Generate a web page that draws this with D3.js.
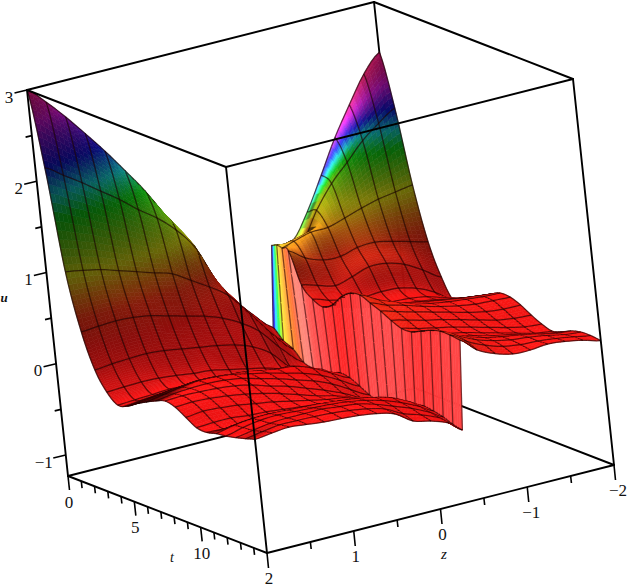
<!DOCTYPE html>
<html>
<head>
<meta charset="utf-8">
<title>u(z, t)</title>
<script src="https://cdn.jsdelivr.net/npm/d3@7/dist/d3.min.js"></script>
<style>
html,body{margin:0;padding:0;background:#fff;overflow:hidden}
svg{display:block}
text{font-family:"Liberation Serif",serif;fill:#111}
</style>
</head>
<body>
<script>
// Axis ranges and ticks
const zDomain = [2, -2];
const tDomain = [0, 15];
const uDomain = [-1.23, 3];
const zTicks = [2, 1.5, 1, 0.5, 0, -0.5, -1, -1.5, -2];
const tTicks = [0,1,2,3,4,5,6,7,8,9,10,11,12,13,14,15];
const uTicks = [-1, -0.5, 0, 0.5, 1, 1.5, 2, 2.5, 3];

// Sample positions
const tRows = [0,0.75,1.5,2.25,3,3.75,4.5,5.25,6,6.75,7.5,8.25,9,9.75,10.5,11.25,12,12.75,13.5,14.25,15];
const zLeft = [2,1.8,1.6,1.4,1.2,1,0.8,0.6,0.4,0.2,0,-0.2];
const zRight = [-0.6,-0.8,-1,-1.2,-1.4,-1.6,-1.8,-2];
// The jump between the two sheets drifts slightly with t
const zJumpFoot = [-0.48,-0.473,-0.466,-0.459,-0.452,-0.445,-0.438,-0.431,-0.424,-0.417,-0.41,-0.403,-0.396,-0.389,-0.382,-0.375,-0.368,-0.361,-0.354,-0.347,-0.34];
const zJumpHead = [-0.56,-0.512,-0.46,-0.42,-0.42,-0.42,-0.42,-0.42,-0.42,-0.42,-0.42,-0.42,-0.42,-0.42,-0.42,-0.42,-0.42,-0.42,-0.42,-0.42,-0.42];

// u on the sheet with z above the jump (rows: t, columns: zLeft then the jump foot)
const uLeft = [
[3.00,2.82,2.61,2.38,2.14,1.88,1.61,1.29,0.96,0.57,0.29,0.06,-0.20],
[2.19,2.06,1.93,1.79,1.65,1.49,1.35,1.17,0.92,0.50,0.22,-0.03,-0.30],
[1.09,1.06,1.02,0.96,0.90,0.84,0.78,0.66,0.54,0.40,0.17,-0.08,-0.35],
[0.475,0.49,0.50,0.49,0.46,0.41,0.36,0.31,0.24,0.14,0.00,-0.22,-0.45],
[0.10,0.12,0.13,0.135,0.12,0.09,0.06,0.03,-0.01,-0.08,-0.20,-0.40,-0.47],
[-0.10,-0.09,-0.085,-0.09,-0.11,-0.135,-0.15,-0.19,-0.23,-0.27,-0.33,-0.42,-0.44],
[-0.20,-0.19,-0.18,-0.17,-0.18,-0.20,-0.23,-0.27,-0.30,-0.33,-0.36,-0.41,-0.43],
[-0.17,-0.15,-0.13,-0.11,-0.11,-0.13,-0.16,-0.18,-0.20,-0.20,-0.24,-0.31,-0.39],
[-0.10,-0.08,-0.05,-0.03,-0.03,-0.04,-0.05,-0.08,-0.11,-0.125,-0.19,-0.29,-0.40],
[-0.04,-0.01,0.02,0.045,0.04,0.02,-0.02,-0.06,-0.11,-0.16,-0.23,-0.33,-0.447],
[0.014,0.04,0.055,0.06,0.05,0.02,-0.03,-0.08,-0.14,-0.20,-0.28,-0.39,-0.50],
[0.056,0.065,0.06,0.05,0.03,-0.01,-0.07,-0.12,-0.19,-0.26,-0.34,-0.44,-0.524],
[0.03,0.04,0.03,0.01,-0.02,-0.06,-0.11,-0.17,-0.23,-0.28,-0.35,-0.44,-0.497],
[-0.04,-0.02,-0.03,-0.05,-0.08,-0.11,-0.15,-0.19,-0.23,-0.26,-0.31,-0.39,-0.453],
[-0.11,-0.10,-0.10,-0.12,-0.13,-0.15,-0.17,-0.19,-0.21,-0.23,-0.27,-0.34,-0.42],
[-0.12,-0.13,-0.14,-0.15,-0.16,-0.16,-0.17,-0.18,-0.19,-0.20,-0.24,-0.31,-0.38],
[-0.09,-0.05,-0.03,-0.025,-0.035,-0.045,-0.055,-0.075,-0.10,-0.13,-0.18,-0.27,-0.36],
[-0.075,-0.03,0.00,0.01,0.00,-0.01,-0.02,-0.04,-0.07,-0.12,-0.19,-0.28,-0.37],
[-0.05,-0.02,0.01,0.02,0.02,0.02,0.00,-0.02,-0.07,-0.14,-0.21,-0.30,-0.39],
[-0.02,0.01,0.035,0.035,0.03,0.02,0.00,-0.03,-0.08,-0.18,-0.24,-0.32,-0.426],
[0.014,0.037,0.054,0.034,0.013,0.003,-0.012,-0.04,-0.092,-0.218,-0.266,-0.336,-0.447]
];

// u on the sheet with z below the jump (rows: t, columns: the jump head then zRight)
const uRight = [
[0.68,0.67,0.67,0.94,1.295,1.66,1.97,2.26,2.45],
[0.74,0.72,0.70,1.00,1.245,1.43,1.62,1.76,1.88],
[0.76,0.80,0.85,0.856,0.91,0.97,1.02,1.05,1.08],
[0.78,0.66,0.59,0.58,0.63,0.64,0.60,0.55,0.50],
[0.45,0.40,0.35,0.40,0.46,0.45,0.39,0.28,0.155],
[0.336,0.28,0.24,0.22,0.23,0.22,0.17,0.08,-0.054],
[0.293,0.25,0.20,0.17,0.16,0.15,0.12,0.06,0.01],
[0.356,0.30,0.24,0.20,0.18,0.16,0.13,0.09,0.063],
[0.486,0.40,0.31,0.26,0.23,0.20,0.17,0.14,0.12],
[0.57,0.47,0.38,0.32,0.28,0.25,0.22,0.20,0.18],
[0.593,0.50,0.42,0.35,0.31,0.28,0.26,0.24,0.233],
[0.547,0.48,0.43,0.37,0.32,0.28,0.25,0.24,0.23],
[0.50,0.45,0.40,0.35,0.30,0.25,0.21,0.19,0.186],
[0.44,0.40,0.35,0.31,0.26,0.21,0.16,0.13,0.118],
[0.394,0.35,0.31,0.27,0.22,0.17,0.12,0.08,0.062],
[0.40,0.34,0.29,0.25,0.20,0.15,0.10,0.05,0.027],
[0.45,0.38,0.31,0.26,0.21,0.17,0.12,0.08,0.06],
[0.50,0.42,0.34,0.28,0.24,0.21,0.17,0.13,0.112],
[0.534,0.44,0.35,0.29,0.25,0.23,0.20,0.16,0.143],
[0.534,0.42,0.33,0.27,0.24,0.23,0.21,0.18,0.147],
[0.52,0.368,0.28,0.228,0.223,0.24,0.22,0.185,0.134]
];

// Colour ramp: height to hue in degrees
const hueLevels = [-1.23,0,0.3,0.6,0.8,1,1.4,1.66,1.9,2.2,2.5,2.75,3];
const hueDegrees = [0,0,1,8,28,55,95,125,180,240,275,310,335];
// Hue and brightness along the t = 0 rim of the right sheet, and hue along the wall's first rows
const rimHue = [55,55,60,150,250,300,330,340,330];
const rimGlow = [1,1,1,1,1,0.9,0.55,0.15,0];
const wallHue = [265,58,30,10,3,0];

// Oblique parallel projection of the unit box onto the page
const origin = [68, 476];
const axisZ = [347, -88];
const axisT = [199, 77];
const axisU = [-41, -386];

const toA = d3.scaleLinear().domain(zDomain).range([0,1]);
const toB = d3.scaleLinear().domain(tDomain).range([0,1]);
const toC = d3.scaleLinear().domain(uDomain).range([0,1]);
const hueOf = d3.scaleLinear().domain(hueLevels).range(hueDegrees).clamp(true);
// The far sheet runs through the ramp faster above u = 1.1
const rightLevel = d3.scaleLinear().domain([-2,1.1,2.45]).range([-2,1.1,3]);

const project = (a,b,c) => [
  origin[0]+a*axisZ[0]+b*axisT[0]+c*axisU[0],
  origin[1]+a*axisZ[1]+b*axisT[1]+c*axisU[1]
];
// View direction, from the cross product of the screen rows of the projection
const vx=[axisZ[0],axisT[0],axisU[0]], vy=[axisZ[1],axisT[1],axisU[1]];
const viewRaw=[vx[1]*vy[2]-vx[2]*vy[1],vx[2]*vy[0]-vx[0]*vy[2],vx[0]*vy[1]-vx[1]*vy[0]];
const viewLen=Math.hypot(...viewRaw);
const view=viewRaw.map(d=>d/viewLen);
const depthOf=(a,b,c)=>view[0]*a+view[1]*b+view[2]*c;

function hsv(h,s,v){
  h=((h%360)+360)%360;
  const f=n=>{const k=(n+h/60)%6;return v-v*s*Math.max(0,Math.min(k,4-k,1));};
  return d3.rgb(f(5)*255,f(3)*255,f(1)*255);
}
const catmull=(p0,p1,p2,p3,s)=>0.5*((2*p1)+(-p0+p2)*s+(2*p0-5*p1+4*p2-p3)*s*s+(-p0+3*p1-3*p2+p3)*s*s*s);
const clampI=(i,n)=>Math.max(0,Math.min(n-1,i));
const along=(arr,k)=>{const i=Math.min(arr.length-2,Math.floor(k));return arr[i]+(arr[i+1]-arr[i])*(k-i);};

function makeSheet(values, zAt){
  const nr=values.length, nc=values[0].length;
  return {
    nr,nc,
    u(r,k){
      const i=Math.min(nr-2,Math.floor(r)), j=Math.min(nc-2,Math.floor(k));
      const sr=r-i, sk=k-j, col=[];
      for(let m=-1;m<=2;m++){
        const row=values[clampI(i+m,nr)];
        col.push(catmull(row[clampI(j-1,nc)],row[j],row[j+1],row[clampI(j+2,nc)],sk));
      }
      return catmull(col[0],col[1],col[2],col[3],sr);
    },
    a(r,k){
      const i=Math.min(nr-2,Math.floor(r)), j=Math.min(nc-2,Math.floor(k));
      const sr=r-i, sk=k-j;
      const at=(ri)=>toA(zAt(ri,j))*(1-sk)+toA(zAt(ri,j+1))*sk;
      return at(i)*(1-sr)+at(i+1)*sr;
    },
    b(r){
      const i=Math.min(nr-2,Math.floor(r)), sr=r-i;
      return toB(tRows[i]*(1-sr)+tRows[i+1]*sr);
    }
  };
}

const left=makeSheet(uLeft,(r,k)=>k<zLeft.length?zLeft[k]:zJumpFoot[r]);
const right=makeSheet(uRight,(r,k)=>k===0?zJumpHead[r]:zRight[k-1]);

const items=[];
const pathOf=pts=>"M"+pts.map(p=>p[0].toFixed(2)+","+p[1].toFixed(2)).join("L")+"Z";
const lineOf=pts=>"M"+pts.map(p=>p[0].toFixed(2)+","+p[1].toFixed(2)).join("L");
const gridColor="rgba(25,0,0,0.68)", gridWidth=1.25;

function shade(P,h,glow){
  // P holds the corners [a,b,c] in order (r0,k0),(r0,k1),(r1,k1),(r1,k0)
  const da=((P[1][0]-P[0][0])+(P[2][0]-P[3][0]))/2||1e-4;
  const dcK=((P[1][2]-P[0][2])+(P[2][2]-P[3][2]))/2;
  const db=((P[3][1]-P[0][1])+(P[2][1]-P[1][1]))/2||1e-4;
  const dcR=((P[3][2]-P[0][2])+(P[2][2]-P[1][2]))/2;
  const sa=dcK/da, sb=dcR/db, len=Math.hypot(sa,sb,1);
  const na=-sa/len, nb=-sb/len, nc=1/len;
  let v=0.24+0.76*Math.pow(nc,1.3)+0.1*Math.max(0,-na)-5*Math.max(0,-nb-0.12)+0.7*glow;
  v=Math.max(0.3,Math.min(1,v));
  return d3.interpolateRgb(hsv(h,0.92,v),"#fff")(0.3*glow);
}

function addSheet(sheet,hueAt,glowAt){
  const colSub=4;
  for(let r=0;r<sheet.nr-1;r++){
    const rowSub=r<6?12:4;
    for(let k=0;k<sheet.nc-1;k++){
      for(let i=0;i<rowSub;i++){
        for(let q=0;q<colSub;q++){
          const r0=r+i/rowSub,r1=r+(i+1)/rowSub,k0=k+q/colSub,k1=k+(q+1)/colSub;
          const corners=[[r0,k0],[r0,k1],[r1,k1],[r1,k0]].map(([rr,kk])=>[sheet.a(rr,kk),sheet.b(rr),toC(sheet.u(rr,kk))]);
          const rm=(r0+r1)/2,km=(k0+k1)/2;
          const scr=corners.map(c=>project(...c));
          const depth=d3.mean(corners,c=>depthOf(...c));
          const fill=shade(corners,hueAt(rm,km,sheet.u(rm,km)),glowAt(rm,km));
          items.push({d:pathOf(scr),fill,stroke:fill,w:0.6,depth});
          const seg=[];
          if(i===0) seg.push([scr[0],scr[1]]);
          if(r===sheet.nr-2&&i===rowSub-1) seg.push([scr[3],scr[2]]);
          if(q===0) seg.push([scr[0],scr[3]]);
          if(k===sheet.nc-2&&q===colSub-1) seg.push([scr[1],scr[2]]);
          seg.forEach(s=>items.push({d:lineOf(s),fill:"none",stroke:gridColor,w:gridWidth,depth:depth+0.012}));
        }
      }
    }
  }
}

// Light catches the far sheet along its t = 0 rim and next to the jump
const rimWeight=(r)=>Math.max(0,1-r/0.9);
const jumpWeight=(r,k)=>Math.max(0,1-k/2.5)*Math.max(0,1-r/3.2);

addSheet(left,(r,k,u)=>hueOf(u),()=>0);
addSheet(right,(r,k,u)=>{
  let hue=hueOf(rightLevel(u));
  const w=rimWeight(r);
  if(w>0) hue+=(along(rimHue,k)-hue)*w;
  const g=jumpWeight(r,k);
  return hue+(55-hue)*Math.min(1,g*1.6);
},(r,k)=>Math.min(1,Math.max(rimWeight(r)*along(rimGlow,k),jumpWeight(r,k))));

// The wall joining the two sheets at the jump
(function addWall(){
  const footK=uLeft[0].length-1;
  const rows=tRows.length;
  for(let r=0;r<rows-1;r++){
    const sub=4, vs=5;
    for(let i=0;i<sub;i++){
      const r0=r+i/sub,r1=r+(i+1)/sub,rm=(r0+r1)/2;
      const slope=right.u(Math.min(rows-1,rm+0.25),0)-right.u(Math.max(0,rm-0.25),0);
      const white=Math.max(0.06,Math.min(0.42,0.18-1.6*slope));
      const h0=rm<wallHue.length-1?along(wallHue,rm):0;
      for(let q=0;q<vs;q++){
        const s0=q/vs,s1=(q+1)/vs;
        const at=(rr,s)=>{
          const a=left.a(rr,footK)*(1-s)+right.a(rr,0)*s;
          const c=toC(left.u(rr,footK))*(1-s)+toC(right.u(rr,0))*s;
          return [a,left.b(rr),c];
        };
        const corners=[at(r0,s0),at(r0,s1),at(r1,s1),at(r1,s0)];
        const scr=corners.map(c=>project(...c));
        const depth=d3.mean(corners,c=>depthOf(...c));
        const fill=d3.interpolateRgb(hsv(h0,0.9,1),"#fff")(white);
        items.push({d:pathOf(scr),fill,stroke:fill,w:0.6,depth});
        if(i===0) items.push({d:lineOf([scr[0],scr[1]]),fill:"none",stroke:"rgba(40,0,0,0.6)",w:gridWidth,depth:depth+0.012});
        if(r===rows-2&&i===sub-1) items.push({d:lineOf([scr[3],scr[2]]),fill:"none",stroke:"rgba(40,0,0,0.6)",w:gridWidth,depth:depth+0.012});
      }
    }
  }
})();

items.sort((p,q)=>p.depth-q.depth);

const svg=d3.select("body").append("svg").attr("width",628).attr("height",587).attr("viewBox","0 0 628 587");

const corner=(a,b,c)=>project(a,b,c);
const edge=(g,p,q)=>g.append("line").attr("x1",p[0]).attr("y1",p[1]).attr("x2",q[0]).attr("y2",q[1])
  .attr("stroke","#000").attr("stroke-width",1.9).attr("stroke-linecap","round");

// Box edges behind the surface
const back=svg.append("g");
[[[0,0,0],[1,0,0]],[[1,0,0],[1,1,0]],[[1,0,0],[1,0,1]],[[0,0,1],[1,0,1]],[[1,0,1],[1,1,1]]]
  .forEach(([p,q])=>edge(back,corner(p[0],p[1],p[2]),corner(q[0],q[1],q[2])));

// The surface, far to near
svg.append("g").selectAll("path").data(items).join("path")
  .attr("d",d=>d.d).attr("fill",d=>d.fill).attr("stroke",d=>d.stroke).attr("stroke-width",d=>d.w);

// Box edges in front of the surface
const front=svg.append("g");
[[[0,0,0],[0,1,0]],[[0,1,0],[1,1,0]],[[0,1,0],[0,1,1]],[[0,0,1],[0,1,1]],[[0,1,1],[1,1,1]],[[1,1,0],[1,1,1]],[[0,0,0],[0,0,1]]]
  .forEach(([p,q])=>edge(front,corner(p[0],p[1],p[2]),corner(q[0],q[1],q[2])));

const tick=(g,p,dx,dy)=>g.append("line").attr("x1",p[0]).attr("y1",p[1]).attr("x2",p[0]+dx).attr("y2",p[1]+dy)
  .attr("stroke","#000").attr("stroke-width",1.6);
const label=(g,txt,x,y,italic,size)=>g.append("text").attr("x",x).attr("y",y).attr("text-anchor","middle")
  .attr("dominant-baseline","central").attr("font-size",size||17).attr("font-style",italic?"italic":"normal").text(txt);
const minus=v=>(v<0?"\u2212":"")+Math.abs(v);

const ticks=svg.append("g");
// t axis, along the near left floor edge
tTicks.forEach(t=>{
  const p=project(0,toB(t),0), major=t%5===0;
  if(t===15) return;
  tick(ticks,p,major?1.5:0.8,major?14:7);
  if(major) label(ticks,minus(t),p[0]+1,p[1]+26);
});
// z axis, along the near right floor edge
zTicks.forEach(z=>{
  const p=project(toA(z),1,0), major=Number.isInteger(z);
  tick(ticks,p,major?1.5:0.8,major?15:7);
  if(major) label(ticks,minus(z),p[0]+(z<0?4:2),p[1]+25);
});
// u axis, up the far left corner
uTicks.forEach(u=>{
  const p=project(0,0,toC(u)), major=Number.isInteger(u);
  const len=major?1:0.5;
  tick(ticks,p,-12.5*len,3*len);
  if(major) label(ticks,minus(u),p[0]-(u<0?22:18),p[1]+7);
});
label(ticks,"t",172,557,true,14);
label(ticks,"z",444,554,true,15);
label(ticks,"u",4,297,true,13).attr("font-weight","bold");
</script>
</body>
</html>
